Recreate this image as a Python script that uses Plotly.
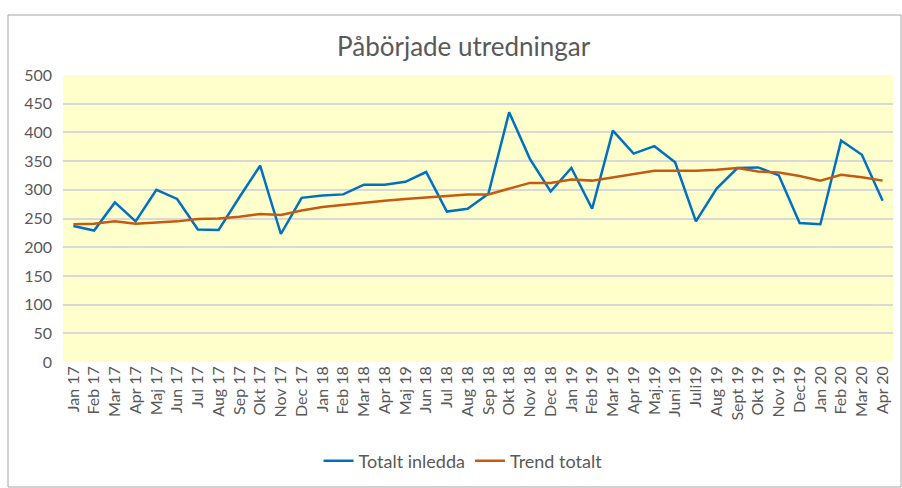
import plotly.graph_objects as go

categories = ["Jan 17", "Feb 17", "Mar 17", "Apr 17", "Maj 17", "Jun 17", "Jul 17", "Aug 17",
              "Sep 17", "Okt 17", "Nov 17", "Dec 17", "Jan 18", "Feb 18", "Mar 18", "Apr 18",
              "Maj 19", "Jun 18", "Jul 18", "Aug 18", "Sep 18", "Okt 18", "Nov 18", "Dec 18",
              "Jan 19", "Feb 19", "Mar 19", "Apr 19", "Maj.19", "Juni 19", "Juli19", "Aug 19",
              "Sept 19", "Okt 19", "Nov 19", "Dec19", "Jan 20", "Feb 20", "Mar 20", "Apr 20"]

totalt_inledda = [237, 229, 278, 245, 300, 284, 231, 230, 287, 342, 223, 286, 290, 292, 309, 309,
                  314, 331, 262, 267, 293, 435, 354, 297, 338, 267, 403, 363, 376, 348, 245, 302,
                  338, 339, 325, 242, 240, 386, 361, 281]

trend_totalt = [240, 241, 245, 241, 243, 245, 249, 250, 253, 258, 256, 264, 270, 274, 277, 281,
                284, 287, 290, 292, 292, 302, 312, 312, 318, 316, 322, 328, 333, 333, 333, 335,
                338, 332, 330, 324, 316, 326, 322, 316]

y_ticks = [0, 50, 100, 150, 200, 250, 300, 350, 400, 450, 500]

FONT = "Lato, 'Open Sans', sans-serif"
GRAY = "#595959"

fig = go.Figure()
fig.add_trace(go.Scatter(x=categories, y=totalt_inledda, mode="lines", name="Totalt inledda",
                         line=dict(color="#0070C0", width=2.5)))
fig.add_trace(go.Scatter(x=categories, y=trend_totalt, mode="lines", name="Trend totalt",
                         line=dict(color="#C55A11", width=2.5)))

fig.update_layout(
    width=902, height=488,
    margin=dict(l=63, r=9, t=75, b=126),
    paper_bgcolor="white",
    plot_bgcolor="#FFFFCC",
    font=dict(family=FONT, color=GRAY, size=16),
    title=dict(text="Påbörjade utredningar", x=0.514, xanchor="center",
               y=1 - 47 / 488, yanchor="middle", font=dict(size=26, color=GRAY, family=FONT)),
    legend=dict(orientation="h", x=0.482, xanchor="center", y=-0.345, yanchor="middle",
                font=dict(size=18, color=GRAY), bgcolor="rgba(0,0,0,0)"),
    showlegend=True,
)
fig.update_xaxes(type="category", range=[-0.5, len(categories) - 0.5], tickangle=-90,
                 showgrid=False, showline=False, ticks="", tickfont=dict(size=16, color=GRAY))
fig.update_yaxes(range=[0, 500], tickvals=y_ticks, showgrid=True, gridcolor="#D9D9D9",
                 gridwidth=1.5, zeroline=False, showline=False, ticks="",
                 ticklabelstandoff=10, tickfont=dict(size=16, color=GRAY))

# outer chart border
fig.add_shape(type="rect", xref="paper", yref="paper",
              x0=(8 - 63) / 830, x1=(901 - 63) / 830,
              y0=(362 - 487) / 287, y1=(362 - 15) / 287,
              line=dict(color="#A6A6A6", width=1), fillcolor="rgba(0,0,0,0)", layer="below")

fig.write_html("out.html", config={"displayModeBar": False},
               post_script="document.body.style.margin='0';document.body.style.overflow='hidden';")
